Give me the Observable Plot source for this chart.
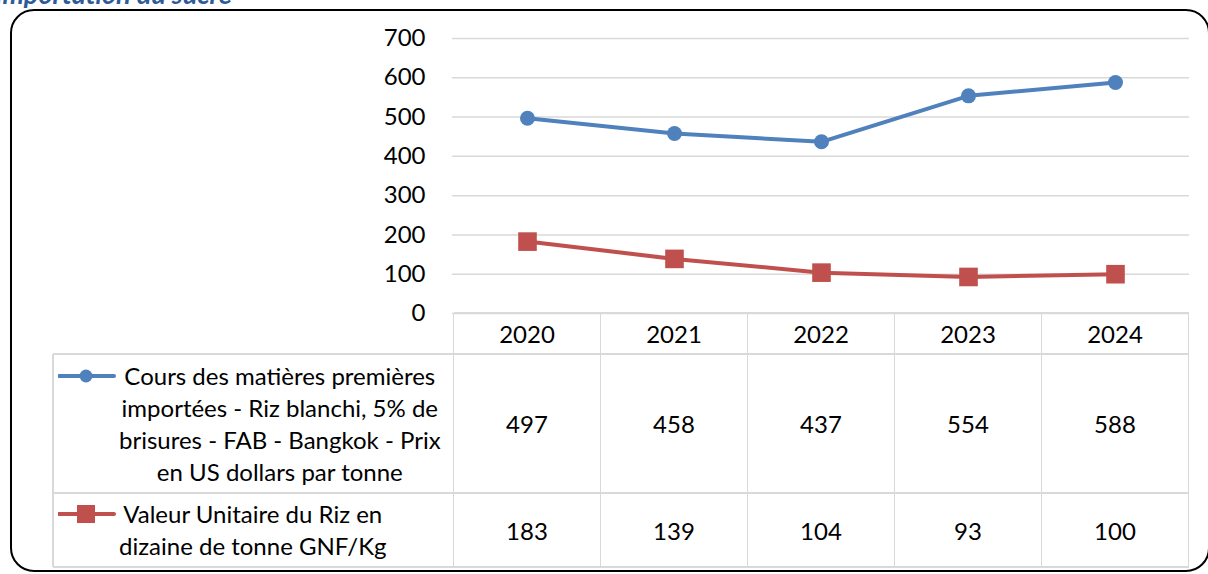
<!DOCTYPE html>
<html><head><meta charset="utf-8">
<script src="https://cdn.jsdelivr.net/npm/d3@7"></script>
<script src="https://cdn.jsdelivr.net/npm/@observablehq/plot@0.6"></script>
<style>
body{margin:0;background:#fff;}
#wrap{position:relative;width:1208px;height:574px;overflow:hidden;font-family:Lato,"Noto Sans",sans-serif;color:#000;}
#wrap svg.plot{position:absolute;left:0;top:0;}
.frame{position:absolute;left:10px;top:9px;width:1200px;height:563px;border:2.5px solid #000;border-radius:24px;box-sizing:border-box;}
.title{position:absolute;left:-5px;top:-23px;font-size:27px;font-weight:bold;font-style:italic;color:#2E5B98;white-space:nowrap;line-height:normal;}
.hl{position:absolute;height:1.5px;background:#D9D9D9;}
.vl{position:absolute;width:1.5px;background:#D9D9D9;}
.cell{position:absolute;display:flex;align-items:center;justify-content:center;font-size:24px;}
.lab{position:absolute;display:flex;align-items:center;font-size:24px;line-height:32px;}
.blk{position:relative;display:inline-block;text-align:center;}
.key{position:absolute;left:-61px;top:6px;}
</style></head><body><div id="wrap"></div>
<script>
const title = "Importation du sucre";
const years = ["2020","2021","2022","2023","2024"];
const yTicks = [0,100,200,300,400,500,600,700];
const worldPriceLabel = ["Cours des matières premières","importées - Riz blanchi, 5% de","brisures - FAB - Bangkok - Prix","en US dollars par tonne"];
const unitValueLabel = ["Valeur Unitaire du Riz en","dizaine de tonne GNF/Kg"];
const worldPrice = [497,458,437,554,588];
const unitValue = [183,139,104,93,100];
const colors = ["#4F81BD","#C0504D"];

const worldRows = years.map((y,i)=>({year:y,value:worldPrice[i]}));
const unitRows = years.map((y,i)=>({year:y,value:unitValue[i]}));

const wrap = document.getElementById("wrap");

const chart = Plot.plot({
  width:1208, height:320,
  marginLeft:452, marginRight:19, marginTop:38, marginBottom:7,
  style:{fontFamily:'Lato,"Noto Sans",sans-serif', fontSize:"24px", color:"#000", background:"transparent", overflow:"visible"},
  x:{type:"point", domain:years, padding:0.5, axis:null, label:null},
  y:{domain:[0,700], axis:null, label:null},
  marks:[
    Plot.ruleY(yTicks, {stroke:"#D9D9D9", strokeWidth:1.5}),
    Plot.axisY(yTicks, {tickSize:0, tickPadding:27, fontSize:24, label:null, tickFormat:d=>String(d)}),
    Plot.line(worldRows, {x:"year", y:"value", stroke:colors[0], strokeWidth:4, strokeLinejoin:"round"}),
    Plot.dot(worldRows, {x:"year", y:"value", r:7.5, fill:colors[0], symbol:"circle"}),
    Plot.line(unitRows, {x:"year", y:"value", stroke:colors[1], strokeWidth:4, strokeLinejoin:"round"}),
    Plot.dot(unitRows, {x:"year", y:"value", r:10.5, fill:colors[1], symbol:"square"})
  ]
});
wrap.appendChild(chart);

// Data table aligned with the x scale
const xs = chart.scale("x");
const ys = chart.scale("y");
const step = xs.apply(years[1]) - xs.apply(years[0]);
const colLeft = xs.apply(years[0]) - step/2;
const colRight = xs.apply(years[years.length-1]) + step/2;
const tableLeft = 53;
const rowY = [ys.apply(0), 354, 493, 567];

function add(cls, css, html){
  const d = document.createElement("div");
  d.className = cls;
  Object.assign(d.style, css);
  if (html !== undefined) d.innerHTML = html;
  wrap.appendChild(d);
  return d;
}
add("hl",{left:colLeft+"px", top:(rowY[0]-0.75)+"px", width:(colRight-colLeft)+"px"});
for (let r=1;r<4;r++) add("hl",{left:tableLeft+"px", top:(rowY[r]-0.75)+"px", width:(colRight-tableLeft)+"px"});
add("vl",{left:(tableLeft-0.75)+"px", top:rowY[1]+"px", height:(rowY[3]-rowY[1])+"px"});
for (let i=0;i<=years.length;i++){
  const x = colLeft + i*step;
  add("vl",{left:(x-0.75)+"px", top:rowY[0]+"px", height:(rowY[3]-rowY[0])+"px"});
}
years.forEach((yr,i)=>{
  const x = colLeft + i*step;
  add("cell",{left:x+"px", top:rowY[0]+"px", width:step+"px", height:(rowY[1]-rowY[0])+"px"}, yr);
  add("cell",{left:x+"px", top:rowY[1]+"px", width:step+"px", height:(rowY[2]-rowY[1])+"px"}, String(worldPrice[i]));
  add("cell",{left:x+"px", top:rowY[2]+"px", width:step+"px", height:(rowY[3]-rowY[2])+"px"}, String(unitValue[i]));
});
function keySvg(color, shape){
  const m = shape==="circle"
    ? `<circle cx="28" cy="10" r="6.5" fill="${color}"/>`
    : `<rect x="19" y="1" width="18" height="18" fill="${color}"/>`;
  return `<svg class="key" width="58" height="20"><line x1="1" y1="10" x2="56" y2="10" stroke="${color}" stroke-width="4" stroke-linecap="round"/>${m}</svg>`;
}
add("lab",{left:"119px", top:rowY[1]+"px", height:(rowY[2]-rowY[1])+"px"},
  `<div class="blk">${keySvg(colors[0],"circle")}${worldPriceLabel.join("<br>")}</div>`);
add("lab",{left:"119px", top:rowY[2]+"px", height:(rowY[3]-rowY[2])+"px"},
  `<div class="blk">${keySvg(colors[1],"square")}${unitValueLabel.join("<br>")}</div>`);

add("frame",{});
add("title",{}, title);
</script>
</body></html>
